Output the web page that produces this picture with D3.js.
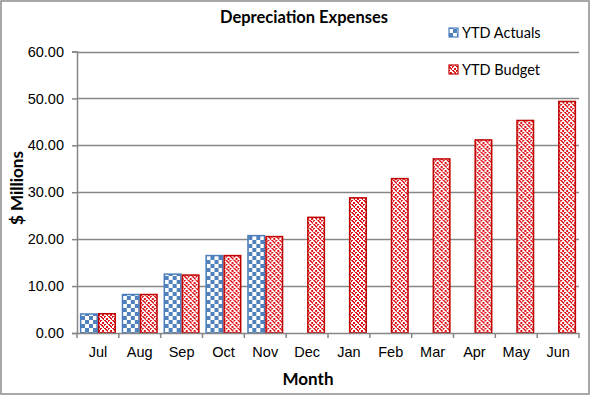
<!DOCTYPE html>
<html>
<head>
<meta charset="utf-8">
<script src="https://cdn.jsdelivr.net/npm/d3@7"></script>
<style>
  body { margin: 0; background: #fff; }
  svg { display: block; font-family: Lato, "Liberation Sans", sans-serif; }
</style>
</head>
<body>
<svg id="chart" width="591" height="396"></svg>
<script>
const months = ["Jul", "Aug", "Sep", "Oct", "Nov", "Dec", "Jan", "Feb", "Mar", "Apr", "May", "Jun"];
const ytdActuals = [4.05, 8.2, 12.55, 16.5, 20.75, null, null, null, null, null, null, null];
const ytdBudget = [4.1, 8.2, 12.35, 16.5, 20.55, 24.65, 28.8, 32.9, 37.1, 41.15, 45.3, 49.35];
const yTicks = [0, 10, 20, 30, 40, 50, 60];
const seriesNames = ["YTD Actuals", "YTD Budget"];

const width = 591, height = 396;
const margin = { top: 51.5, right: 12, bottom: 63, left: 77 };

const svg = d3.select("#chart");
const defs = svg.append("defs");

// checkerboard fill for actuals
const chk = defs.append("pattern").attr("id", "chk")
  .attr("patternUnits", "userSpaceOnUse").attr("width", 8).attr("height", 8);
chk.append("rect").attr("width", 8).attr("height", 8).attr("fill", "#fff");
chk.append("rect").attr("width", 4).attr("height", 4).attr("fill", "#4f81bd");
chk.append("rect").attr("x", 4).attr("y", 4).attr("width", 4).attr("height", 4).attr("fill", "#4f81bd");

// weave-ish fill for budget
const weaveBits = [
  "10011001",
  "00001101",
  "01100110",
  "01100010",
  "10011001",
  "11010000",
  "01100110",
  "00100110"
];
const wv = defs.append("pattern").attr("id", "weave")
  .attr("patternUnits", "userSpaceOnUse").attr("width", 8).attr("height", 8);
wv.append("rect").attr("width", 8).attr("height", 8).attr("fill", "#fff");
weaveBits.forEach((row, r) => {
  row.split("").forEach((b, c) => {
    if (b === "1") wv.append("rect").attr("x", c).attr("y", r).attr("width", 1).attr("height", 1).attr("fill", "#e0161b");
  });
});

// outer border
svg.append("rect")
  .attr("x", 1).attr("y", 1).attr("width", width - 3).attr("height", height - 3)
  .attr("fill", "#fff").attr("stroke", "#8c8c8c").attr("stroke-width", 1.5);

const x = d3.scaleBand()
  .domain(months)
  .range([margin.left, width - margin.right])
  .paddingInner(0).paddingOuter(0);

const y = d3.scaleLinear()
  .domain([0, 60])
  .range([height - margin.bottom, margin.top]);

const xSub = d3.scaleBand()
  .domain(seriesNames)
  .range([0, x.bandwidth()])
  .paddingInner(0).paddingOuter(0.16);

// gridlines
svg.append("g")
  .selectAll("line")
  .data(yTicks.filter(d => d > 0))
  .join("line")
  .attr("x1", margin.left).attr("x2", width - margin.right)
  .attr("y1", d => Math.round(y(d)) + 0.5).attr("y2", d => Math.round(y(d)) + 0.5)
  .attr("stroke", "#868686").attr("stroke-width", 1.5);

// y axis
const yAxis = svg.append("g")
  .attr("transform", `translate(${margin.left},0)`)
  .call(d3.axisLeft(y).tickValues(yTicks).tickFormat(d3.format(".2f")).tickSize(5).tickPadding(8));
yAxis.select(".domain").attr("stroke", "#868686").attr("stroke-width", 1.5);
yAxis.selectAll(".tick line").attr("stroke", "#868686").attr("stroke-width", 1.5);
yAxis.selectAll("text").attr("font-size", 14.5).attr("fill", "#000");

// bars
const groups = svg.append("g")
  .selectAll("g")
  .data(months)
  .join("g")
  .attr("transform", d => `translate(${x(d)},0)`);

groups.append("rect")
  .filter((d, i) => ytdActuals[i] != null)
  .attr("x", xSub("YTD Actuals") + 0.75)
  .attr("y", d => y(ytdActuals[months.indexOf(d)]))
  .attr("width", xSub.bandwidth() - 1.5)
  .attr("height", d => y(0) - y(ytdActuals[months.indexOf(d)]))
  .attr("fill", "url(#chk)")
  .attr("stroke", "#4a7ebb").attr("stroke-width", 1.5);

groups.append("rect")
  .attr("x", xSub("YTD Budget") + 0.75)
  .attr("y", (d, i) => y(ytdBudget[i]))
  .attr("width", xSub.bandwidth() - 1.5)
  .attr("height", (d, i) => y(0) - y(ytdBudget[i]))
  .attr("fill", "url(#weave)")
  .attr("stroke", "#c00000").attr("stroke-width", 1.5);

// x axis
const xAxis = svg.append("g")
  .attr("transform", `translate(0,${y(0)})`)
  .call(d3.axisBottom(x).tickSize(0).tickPadding(14));
xAxis.select(".domain").attr("stroke", "#868686").attr("stroke-width", 1.5);
xAxis.selectAll("text").attr("font-size", 14.5).attr("fill", "#000");
xAxis.selectAll(".sep")
  .data(months.concat(["end"]))
  .join("line")
  .attr("class", "sep")
  .attr("x1", (d, i) => i < months.length ? x(d) : x.range()[1])
  .attr("x2", (d, i) => i < months.length ? x(d) : x.range()[1])
  .attr("y1", 0).attr("y2", 5)
  .attr("stroke", "#868686").attr("stroke-width", 1.5);

// titles
svg.append("text")
  .attr("x", 304).attr("y", 23)
  .attr("text-anchor", "middle")
  .attr("font-size", 16.5).attr("font-weight", "bold")
  .text("Depreciation Expenses");

svg.append("text")
  .attr("x", 308).attr("y", 385)
  .attr("text-anchor", "middle")
  .attr("font-size", 17).attr("font-weight", "bold")
  .text("Month");

svg.append("text")
  .attr("transform", "translate(23,188) rotate(-90)")
  .attr("text-anchor", "middle")
  .attr("font-size", 17).attr("font-weight", "bold")
  .text("$ Millions");

// legend
const legend = svg.append("g")
  .selectAll("g")
  .data(seriesNames)
  .join("g")
  .attr("transform", (d, i) => `translate(449,${33 + i * 37})`);
legend.append("rect")
  .attr("x", 0).attr("y", -5).attr("width", 9).attr("height", 9)
  .attr("fill", (d, i) => i === 0 ? "url(#chk)" : "url(#weave)")
  .attr("stroke", (d, i) => i === 0 ? "#4a7ebb" : "#c00000").attr("stroke-width", 1.2);
legend.append("text")
  .attr("x", 13).attr("y", 0).attr("dy", "0.35em")
  .attr("font-size", 14.5)
  .text(d => d);
</script>
</body>
</html>
